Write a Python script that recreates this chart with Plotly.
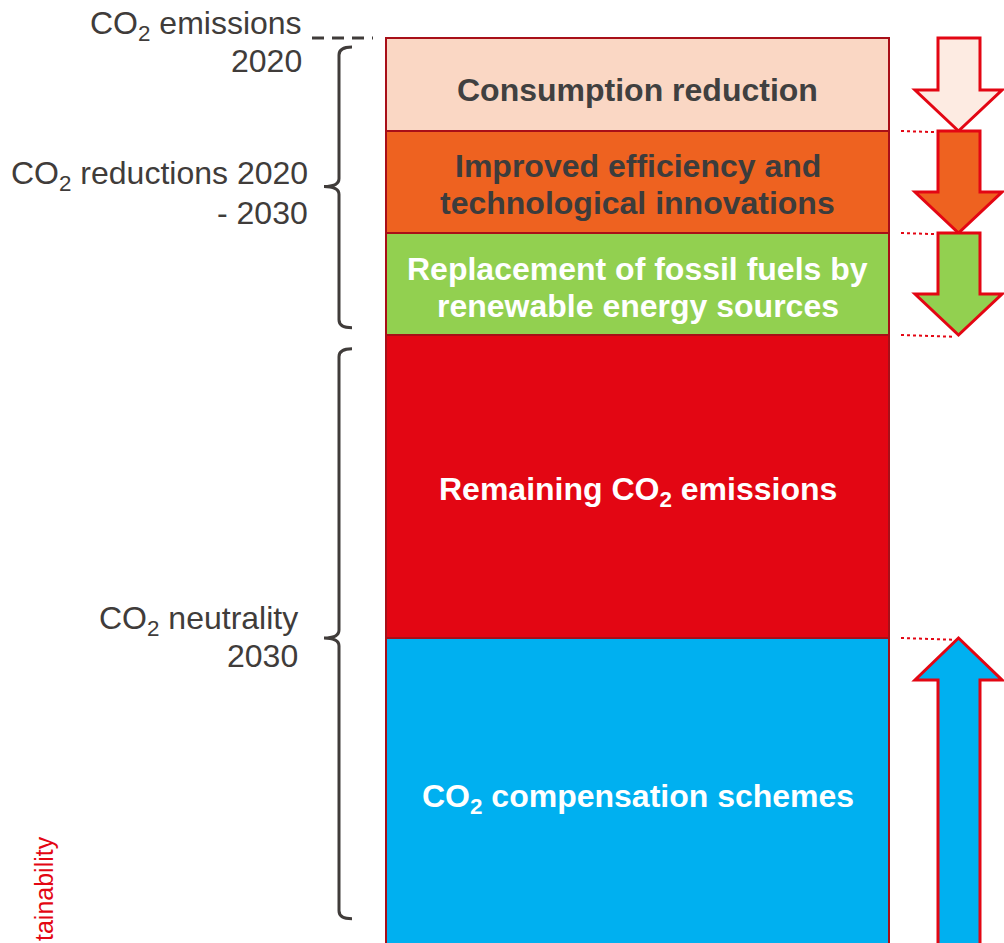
import plotly.graph_objects as go

# ---------------- data (share of 2020 CO2 emissions, %) ----------------
emissions_2020 = 100.0
stage_labels = [
    ["Consumption reduction"],
    ["Improved efficiency and", "technological innovations"],
    ["Replacement of fossil fuels by", "renewable energy sources"],
    ["Remaining CO<sub>2</sub> emissions"],
    ["CO<sub>2</sub> compensation schemes"],
]
reduction_values = [15.5, 17.0, 17.0]      # reductions 2020-2030
remaining_value = 50.5                      # remaining emissions 2030
compensation_value = 51.0                   # compensated emissions (offsets)
bracket_labels = [
    ["CO<sub>2</sub> emissions", "2020"],
    ["CO<sub>2</sub> reductions 2020", "- 2030"],
    ["CO<sub>2</sub> neutrality", "2030"],
]
side_label = "tainability"

# ---------------- styles ----------------
FILLS = ["#FAD7C4", "#EE6220", "#92D050", "#E30613", "#00B0F0"]
TEXT_COL = ["#404040", "#3C3C3C", "#FFFFFF", "#FFFFFF", "#FFFFFF"]
ARROW_FILLS = ["#FDEBE2", "#EE6220", "#92D050", "#00B0F0"]
EDGE = "#A80F18"
RED = "#E30613"
GRAY = "#403C3A"
FONT = "Arial, Liberation Sans, sans-serif"
PX = 1 / 6.0   # data units per pixel (y)
PAGE_OFF = 0   # body margin removed by post_script below

# segment tops/bottoms
tops, bases = [], []
top = emissions_2020
for v in reduction_values + [remaining_value]:
    tops.append(top)
    bases.append(top - v)
    top -= v
tops.append(0.0)
bases.append(-compensation_value)
heights = [t - b for t, b in zip(tops, bases)]

fig = go.Figure()
for i in range(5):
    fig.add_trace(go.Bar(
        x=[637.5], y=[heights[i]], base=[bases[i]], width=[503],
        marker=dict(color=FILLS[i], line=dict(color=EDGE, width=2)),
        hoverinfo="skip", showlegend=False,
    ))

ann = []
# block texts
line_gap = 37
text_shift = [-5, -2, -3, -5, -7]
for i, lines in enumerate(stage_labels):
    mid = (tops[i] + bases[i]) / 2
    n = len(lines)
    for k, t in enumerate(lines):
        off = ((n - 1) / 2 - k) * line_gap + text_shift[i]
        ann.append(dict(x=637.5, y=mid, xref="x", yref="y", text="<b>" + t + "</b>",
                        showarrow=False, xanchor="center", yanchor="middle", yshift=off,
                        font=dict(family=FONT, size=32, color=TEXT_COL[i])))

# left bracket labels
red_mid = (emissions_2020 + bases[2]) / 2
left_specs = [
    (emissions_2020, 303, [13, -23]),
    (red_mid, 309, [11, -26]),
    (0.0, 299, [18, -18]),
]
for (yv, xr, shifts), lines in zip(left_specs, bracket_labels):
    for t, s in zip(lines, shifts):
        ann.append(dict(x=xr, y=yv, xref="x", yref="y", text=t, showarrow=False,
                        xanchor="right", yanchor="middle", yshift=s, borderpad=0,
                        font=dict(family=FONT, size=32, color=GRAY)))

ann.append(dict(x=44, y=1 - (889 - PAGE_OFF) / 943, xref="x", yref="paper", text=side_label,
                textangle=-90, showarrow=False, xanchor="center", yanchor="middle",
                font=dict(family=FONT, size=25, color=RED)))

shapes = []
# dashed line at 2020 emissions
shapes.append(dict(type="line", xref="x", yref="y", x0=312, x1=373,
                   y0=emissions_2020, y1=emissions_2020,
                   line=dict(color=GRAY, width=3, dash="12px,8px")))


def brace(y_top, y_bot, y_mid):
    r = 8 * PX
    return (f"M 352,{y_top} Q 339,{y_top} 339,{y_top - r} "
            f"L 339,{y_mid + r} Q 339,{y_mid} 324,{y_mid} "
            f"Q 339,{y_mid} 339,{y_mid - r} "
            f"L 339,{y_bot + r} Q 339,{y_bot} 352,{y_bot}")


shapes.append(dict(type="path", xref="x", yref="y",
                   path=brace(emissions_2020 - 1.5, bases[2] + 1.2, red_mid),
                   line=dict(color=GRAY, width=3)))
shapes.append(dict(type="path", xref="x", yref="y",
                   path=brace(tops[3] - 2.3, -remaining_value + 3.7, 0.0),
                   line=dict(color=GRAY, width=3)))

# dotted red guide lines
for yv in bases[:3] + [bases[3]]:
    shapes.append(dict(type="line", xref="x", yref="y", x0=901, x1=955,
                       y0=yv, y1=yv - 0.3,
                       line=dict(color=RED, width=2, dash="dot")))

HEAD = 41 * PX


def down_arrow(t, b):
    h = b + HEAD
    return (f"M 938,{t} L 980,{t} L 980,{h} L 1002,{h} L 958.5,{b} "
            f"L 915,{h} L 938,{h} Z")


def up_arrow(tip, b):
    h = tip - HEAD - 1 * PX
    return (f"M 938,{b} L 938,{h} L 915,{h} L 958.5,{tip} L 1002,{h} "
            f"L 980,{h} L 980,{b} Z")


for i in range(3):
    shapes.append(dict(type="path", xref="x", yref="y", path=down_arrow(tops[i], bases[i]),
                       fillcolor=ARROW_FILLS[i], line=dict(color=RED, width=3), layer="above"))
shapes.append(dict(type="path", xref="x", yref="y", path=up_arrow(tops[4], bases[4] - 1),
                   fillcolor=ARROW_FILLS[3], line=dict(color=RED, width=3), layer="above"))

# axis ranges: reference top of block at 38 px, 6 px per unit
y_top = emissions_2020 + (38 - PAGE_OFF) * PX
y_bot = y_top - 943 * PX

fig.update_layout(
    width=1004, height=943,
    margin=dict(l=0, r=0, t=0, b=0),
    paper_bgcolor="white", plot_bgcolor="white",
    barmode="overlay",
    xaxis=dict(range=[PAGE_OFF, 1004 + PAGE_OFF], visible=False, fixedrange=True),
    yaxis=dict(range=[y_bot, y_top], visible=False, fixedrange=True),
    annotations=ann, shapes=shapes, showlegend=False,
)

fig.write_html("out.html", config={"displayModeBar": False},
               post_script="document.body.style.margin='0';document.body.style.overflow='hidden';")
